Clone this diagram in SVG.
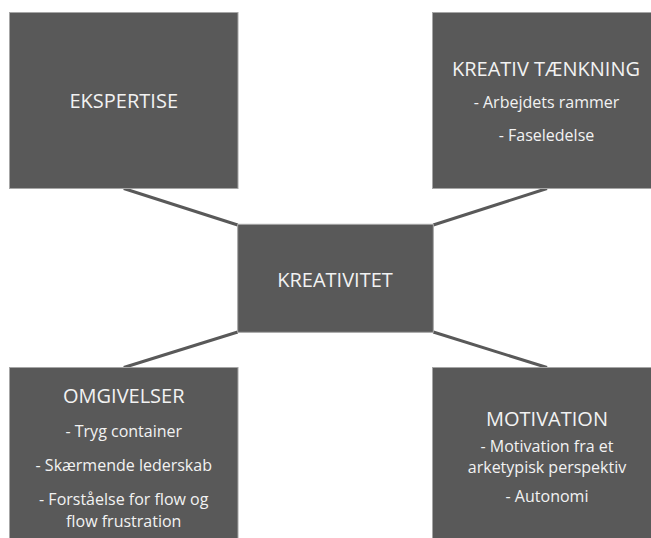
<svg xmlns="http://www.w3.org/2000/svg" width="651" height="538" viewBox="0 0 651 538">
  <style>
    .box { fill: #595959; stroke: #a6a6a6; stroke-width: 1; }
    .link { stroke: #595959; stroke-width: 3; fill: none; }
    .title { font-family: "Open Sans", "Liberation Sans", sans-serif; font-size: 20px; fill: #f2f2f2; text-anchor: middle; }
    .item { font-family: "Open Sans", "Liberation Sans", sans-serif; font-size: 16px; fill: #f2f2f2; text-anchor: middle; }
  </style>
  <rect width="651" height="538" fill="#ffffff"/>

  <!-- connectors from the outer boxes to the centre box corners -->
  <g id="connectors">
    <line class="link" x1="123.75" y1="188.5" x2="237.7" y2="225"/>
    <line class="link" x1="547" y1="188.5" x2="433.3" y2="225"/>
    <line class="link" x1="123.75" y1="367.5" x2="237.7" y2="332"/>
    <line class="link" x1="547" y1="367.5" x2="433.3" y2="332"/>
  </g>

  <g id="ekspertise">
    <rect class="box" x="9.5" y="12.5" width="228.5" height="176"/>
    <text class="title" x="123.75" y="108.3">EKSPERTISE</text>
  </g>

  <g id="kreativ-taenkning">
    <rect class="box" x="432.5" y="12.5" width="228.5" height="176"/>
    <text class="title" x="546" y="76">KREATIV TÆNKNING</text>
    <text class="item" x="546.5" y="108">- Arbejdets rammer</text>
    <text class="item" x="546.5" y="140.5">- Faseledelse</text>
  </g>

  <g id="kreativitet">
    <rect class="box" x="237.7" y="224.3" width="195.6" height="108"/>
    <text class="title" x="335" y="286.7">KREATIVITET</text>
  </g>

  <g id="omgivelser">
    <rect class="box" x="9.5" y="367.5" width="228.5" height="180"/>
    <text class="title" x="123.75" y="403.3">OMGIVELSER</text>
    <text class="item" x="123.75" y="437.3">- Tryg container</text>
    <text class="item" x="123.75" y="471">- Skærmende lederskab</text>
    <text class="item" x="123.75" y="505">- Forståelse for flow og</text>
    <text class="item" x="123.75" y="527">flow frustration</text>
  </g>

  <g id="motivation">
    <rect class="box" x="432.5" y="367.5" width="228.5" height="180"/>
    <text class="title" x="547" y="426">MOTIVATION</text>
    <text class="item" x="547" y="452">- Motivation fra et</text>
    <text class="item" x="547" y="473.3">arketypisk perspektiv</text>
    <text class="item" x="547" y="501.5">- Autonomi</text>
  </g>
</svg>
